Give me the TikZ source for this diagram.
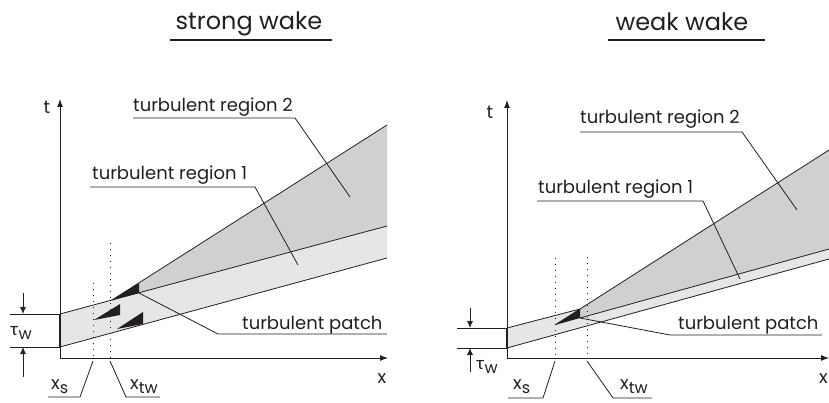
\documentclass[tikz,border=0pt]{standalone}
\usepackage{fontspec}
\setmainfont{Poppins}
\newfontfamily\gkfont{Lato}
\usetikzlibrary{arrows.meta}
\definecolor{regtwo}{RGB}{208,208,210}
\definecolor{regone}{RGB}{229,230,232}
\definecolor{ink}{RGB}{35,31,32}
\newcommand\mysub[1]{\raisebox{-0.5ex}{\fontsize{16}{16}\selectfont #1}}
\begin{document}
\begin{tikzpicture}[x=1pt,y=-1pt,
  ln/.style={line width=0.8pt,draw=ink},
  edge/.style={line width=1.3pt,draw=ink},
  axis/.style={line width=1pt,draw=ink,-{Latex[length=8pt,width=6pt]}},
  dimarrow/.style={line width=0.8pt,draw=ink,-{Latex[length=7pt,width=6pt]}},
  dotline/.style={line width=1pt,draw=ink,dash pattern=on 1pt off 5pt},
  lbl/.style={font=\fontsize{18}{21}\selectfont,inner sep=0pt,anchor=base west,text=ink},
  ttl/.style={font=\fontsize{24}{28}\selectfont,inner sep=0pt,anchor=base,text=ink},
  axlbl/.style={font=\fontsize{18}{21}\selectfont,inner sep=0pt,text=ink},
  ttlline/.style={line width=2.6pt,draw=ink},
  blk/.style={fill=ink,draw=none}]
\useasboundingbox (0,0) rectangle (829,403);

% ================= LEFT: strong wake =================
\coordinate (O1) at (60,358);
\coordinate (T1top) at (60,99);
\coordinate (X1end) at (388,358);
\coordinate (A1) at (60,314);
\coordinate (B1) at (60,347);
\coordinate (A1r) at (387,226);
\coordinate (B1r) at (387,258);
\coordinate (T1) at (112,300);
\coordinate (P1) at (139,283);
\coordinate (Q1) at (139,293);
\coordinate (U1r) at (387,125);

\fill[regone] (A1) -- (A1r) -- (B1r) -- (B1) -- cycle;
\fill[regtwo] (P1) -- (U1r) -- (A1r) -- (Q1) -- cycle;
\fill[blk] (T1) -- (P1) -- (Q1) -- cycle;
\fill[blk] (94,320) -- (120,304) -- (120,315) -- cycle;
\fill[blk] (117,329) -- (143,312) -- (143,324) -- cycle;
\draw[ln] (A1) -- (A1r);
\draw[ln] (B1) -- (B1r);
\draw[ln] (T1) -- (U1r);
\draw[edge] (A1) -- (B1);

\draw[axis] (O1) -- (T1top);
\draw[axis] (O1) -- (X1end);
\node[axlbl] (t1) at (47,107) {t};
\node[axlbl] (x1) at (382,379) {x};

% dotted positions
\coordinate (xs1top) at (93,283);
\coordinate (xs1bot) at (93,358);
\coordinate (xt1top) at (110,243);
\coordinate (xt1bot) at (110,358);
\draw[dotline] (xs1top) -- (xs1bot);
\draw[dotline] (xt1top) -- (xt1bot);

% x_s and x_tw leaders
\coordinate (xs1a) at (93,361);
\coordinate (xs1b) at (80,397);
\coordinate (xs1c) at (48,397);
\draw[ln] (xs1a) -- (xs1b) -- (xs1c);
\node[lbl] (xs1) at (51,389) {x\mysub{s}};
\coordinate (xt1a) at (110,361);
\coordinate (xt1b) at (126,397);
\coordinate (xt1c) at (160,397);
\draw[ln] (xt1a) -- (xt1b) -- (xt1c);
\node[lbl] (xt1) at (130,389) {x\mysub{tw}};

% tau_w dimension
\coordinate (d1a) at (10,314);
\coordinate (d1b) at (10,347);
\draw[ln] (d1a) -- (A1);
\draw[ln] (d1b) -- (B1);
\coordinate (ar1a) at (23,293);
\coordinate (ar1b) at (23,314);
\coordinate (ar1c) at (23,377);
\coordinate (ar1d) at (23,347);
\draw[dimarrow] (ar1a) -- (ar1b);
\draw[dimarrow] (ar1c) -- (ar1d);
\node[lbl] (tau1) at (10,335) {{\gkfont τ}\mysub{w}};

% labels
\node[lbl] (r2l) at (133,112) {turbulent region 2};
\coordinate (r2la) at (133,118);
\coordinate (r2lb) at (295,118);
\coordinate (r2lp) at (350,197);
\draw[ln] (r2la) -- (r2lb) -- (r2lp);

\node[lbl] (r1l) at (92,180) {turbulent region 1};
\coordinate (r1la) at (90,187);
\coordinate (r1lb) at (255,187);
\coordinate (r1lp) at (298,265);
\draw[ln] (r1la) -- (r1lb) -- (r1lp);

\node[lbl] (pl) at (242,329) {turbulent patch};
\coordinate (pla) at (387,334);
\coordinate (plb) at (218,334);
\draw[ln] (pla) -- (plb) -- (Q1);

\node[ttl] (title1) at (249,30) {strong wake};
\coordinate (tl1a) at (170,40);
\coordinate (tl1b) at (332,40);
\draw[ttlline] (tl1a) -- (tl1b);

% ================= RIGHT: weak wake =================
\coordinate (O2) at (507,358);
\coordinate (T2top) at (507,100);
\coordinate (X2end) at (829,358);
\coordinate (A2) at (507,328);
\coordinate (B2) at (507,348);
\coordinate (A2m) at (580,309);
\coordinate (Q2) at (580,318);
\coordinate (L2r) at (829,249);
\coordinate (B2r) at (829,259);
\coordinate (T2) at (555,325);
\coordinate (U2r) at (829,150);

\fill[regone] (A2) -- (A2m) -- (Q2) -- (L2r) -- (B2r) -- (B2) -- cycle;
\fill[regtwo] (A2m) -- (U2r) -- (L2r) -- (Q2) -- cycle;
\fill[blk] (T2) -- (A2m) -- (Q2) -- cycle;
\draw[ln] (A2) -- (A2m);
\draw[ln] (T2) -- (U2r);
\draw[ln] (Q2) -- (L2r);
\draw[ln] (B2) -- (B2r);
\draw[edge] (A2) -- (B2);

\draw[axis] (O2) -- (T2top);
\draw[axis] (O2) -- (X2end);
\node[axlbl] (t2) at (490,112) {t};
\node[axlbl,anchor=east] (x2) at (828,379) {x};

\coordinate (xs2top) at (555,258);
\coordinate (xs2bot) at (555,358);
\coordinate (xt2top) at (587,257);
\coordinate (xt2bot) at (587,358);
\draw[dotline] (xs2top) -- (xs2bot);
\draw[dotline] (xt2top) -- (xt2bot);

\coordinate (xs2a) at (555,361);
\coordinate (xs2b) at (543,398);
\coordinate (xs2c) at (508,398);
\draw[ln] (xs2a) -- (xs2b) -- (xs2c);
\node[lbl] (xs2) at (513,389) {x\mysub{s}};
\coordinate (xt2a) at (587,361);
\coordinate (xt2b) at (613,398);
\coordinate (xt2c) at (652,398);
\draw[ln] (xt2a) -- (xt2b) -- (xt2c);
\node[lbl] (xt2) at (620,389) {x\mysub{tw}};

\coordinate (d2a) at (457,328);
\coordinate (d2b) at (457,348);
\draw[ln] (d2a) -- (A2);
\draw[ln] (d2b) -- (B2);
\coordinate (ar2a) at (470,308);
\coordinate (ar2b) at (470,328);
\coordinate (ar2c) at (470,372);
\coordinate (ar2d) at (470,348);
\draw[dimarrow] (ar2a) -- (ar2b);
\draw[dimarrow] (ar2c) -- (ar2d);
\node[lbl] (tau2) at (476,369) {{\gkfont τ}\mysub{w}};

\node[lbl] (r2r) at (580,124) {turbulent region 2};
\coordinate (r2ra) at (580,132);
\coordinate (r2rb) at (742,132);
\coordinate (r2rp) at (797,210);
\draw[ln] (r2ra) -- (r2rb) -- (r2rp);

\node[lbl] (r1r) at (538,194) {turbulent region 1};
\coordinate (r1ra) at (537,201);
\coordinate (r1rb) at (703,201);
\coordinate (r1rp) at (740,279);
\draw[ln] (r1ra) -- (r1rb) -- (r1rp);

\node[lbl] (pr) at (678,329) {turbulent patch};
\coordinate (pra) at (822,335);
\coordinate (prb) at (670,335);
\draw[ln] (pra) -- (prb) -- (Q2);

\node[ttl] (title2) at (682,31) {weak wake};
\coordinate (tl2a) at (608,40);
\coordinate (tl2b) at (765,40);
\draw[ttlline] (tl2a) -- (tl2b);
\end{tikzpicture}
\end{document}
